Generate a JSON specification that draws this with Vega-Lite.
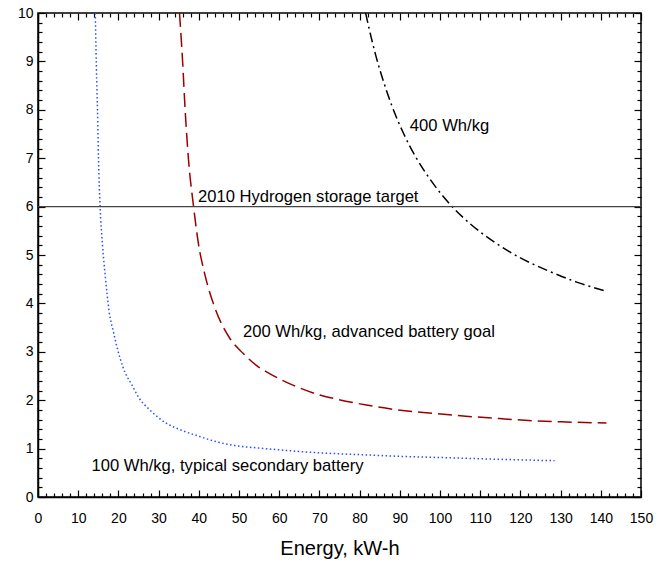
{
  "$schema": "https://vega.github.io/schema/vega-lite/v6.json",
  "autosize": "none",
  "width": 603,
  "height": 484,
  "padding": {"left": 38, "top": 13, "right": 18, "bottom": 67},
  "background": "white",
  "config": {
    "view": {"stroke": "#000000", "strokeWidth": 1.5},
    "font": "Liberation Sans",
    "axis": {"grid": false, "tickColor": "#000000", "tickWidth": 1.2, "domainColor": "#000000", "domainWidth": 1.5, "labelColor": "#000000"}
  },
  "datasets": {
    "curves": [
      {"series": "100 Wh/kg", "energy": 14.25, "value": 10},
      {"series": "100 Wh/kg", "energy": 14.6, "value": 8.6},
      {"series": "100 Wh/kg", "energy": 14.8, "value": 8.0},
      {"series": "100 Wh/kg", "energy": 15.05, "value": 7.0},
      {"series": "100 Wh/kg", "energy": 15.45, "value": 6.0},
      {"series": "100 Wh/kg", "energy": 16.05, "value": 5.2},
      {"series": "100 Wh/kg", "energy": 16.75, "value": 4.55},
      {"series": "100 Wh/kg", "energy": 17.65, "value": 3.86},
      {"series": "100 Wh/kg", "energy": 18.8, "value": 3.4},
      {"series": "100 Wh/kg", "energy": 19.8, "value": 3.05},
      {"series": "100 Wh/kg", "energy": 21.1, "value": 2.69},
      {"series": "100 Wh/kg", "energy": 23.6, "value": 2.28},
      {"series": "100 Wh/kg", "energy": 25.1, "value": 2.05},
      {"series": "100 Wh/kg", "energy": 27.8, "value": 1.8},
      {"series": "100 Wh/kg", "energy": 32.0, "value": 1.52},
      {"series": "100 Wh/kg", "energy": 35.7, "value": 1.38},
      {"series": "100 Wh/kg", "energy": 40.2, "value": 1.25},
      {"series": "100 Wh/kg", "energy": 44.0, "value": 1.15},
      {"series": "100 Wh/kg", "energy": 48.5, "value": 1.07},
      {"series": "100 Wh/kg", "energy": 56.6, "value": 1.0},
      {"series": "100 Wh/kg", "energy": 65.1, "value": 0.94},
      {"series": "100 Wh/kg", "energy": 73.0, "value": 0.9},
      {"series": "100 Wh/kg", "energy": 81.7, "value": 0.87},
      {"series": "100 Wh/kg", "energy": 90.0, "value": 0.84},
      {"series": "100 Wh/kg", "energy": 98.2, "value": 0.82},
      {"series": "100 Wh/kg", "energy": 114.4, "value": 0.78},
      {"series": "100 Wh/kg", "energy": 128.5, "value": 0.75},
      {"series": "200 Wh/kg", "energy": 35.2, "value": 10},
      {"series": "200 Wh/kg", "energy": 35.95, "value": 9.03},
      {"series": "200 Wh/kg", "energy": 36.6, "value": 8.0},
      {"series": "200 Wh/kg", "energy": 37.45, "value": 6.96},
      {"series": "200 Wh/kg", "energy": 38.7, "value": 6.0},
      {"series": "200 Wh/kg", "energy": 39.9, "value": 5.24},
      {"series": "200 Wh/kg", "energy": 41.5, "value": 4.6},
      {"series": "200 Wh/kg", "energy": 43.95, "value": 3.92},
      {"series": "200 Wh/kg", "energy": 47.7, "value": 3.28},
      {"series": "200 Wh/kg", "energy": 51.0, "value": 2.97},
      {"series": "200 Wh/kg", "energy": 54.65, "value": 2.7},
      {"series": "200 Wh/kg", "energy": 57.6, "value": 2.55},
      {"series": "200 Wh/kg", "energy": 64.3, "value": 2.28},
      {"series": "200 Wh/kg", "energy": 69.6, "value": 2.12},
      {"series": "200 Wh/kg", "energy": 73.4, "value": 2.04},
      {"series": "200 Wh/kg", "energy": 81.7, "value": 1.9},
      {"series": "200 Wh/kg", "energy": 89.5, "value": 1.8},
      {"series": "200 Wh/kg", "energy": 98.2, "value": 1.73},
      {"series": "200 Wh/kg", "energy": 106.4, "value": 1.67},
      {"series": "200 Wh/kg", "energy": 114.8, "value": 1.62},
      {"series": "200 Wh/kg", "energy": 124.3, "value": 1.57},
      {"series": "200 Wh/kg", "energy": 131.3, "value": 1.55},
      {"series": "200 Wh/kg", "energy": 141.4, "value": 1.53},
      {"series": "400 Wh/kg", "energy": 81.5, "value": 10},
      {"series": "400 Wh/kg", "energy": 82.5, "value": 9.63},
      {"series": "400 Wh/kg", "energy": 84.0, "value": 9.13},
      {"series": "400 Wh/kg", "energy": 86.0, "value": 8.57},
      {"series": "400 Wh/kg", "energy": 88.0, "value": 8.09},
      {"series": "400 Wh/kg", "energy": 91.0, "value": 7.5},
      {"series": "400 Wh/kg", "energy": 94.0, "value": 7.02},
      {"series": "400 Wh/kg", "energy": 98.0, "value": 6.51},
      {"series": "400 Wh/kg", "energy": 103.0, "value": 6.0},
      {"series": "400 Wh/kg", "energy": 108.0, "value": 5.61},
      {"series": "400 Wh/kg", "energy": 114.0, "value": 5.24},
      {"series": "400 Wh/kg", "energy": 120.0, "value": 4.94},
      {"series": "400 Wh/kg", "energy": 127.0, "value": 4.67},
      {"series": "400 Wh/kg", "energy": 134.0, "value": 4.44},
      {"series": "400 Wh/kg", "energy": 141.4, "value": 4.25}
    ],
    "target": [{"name": "2010 Hydrogen storage target", "value": 6}],
    "labels": [
      {"text": "400 Wh/kg", "energy": 92.5, "value": 7.67},
      {"text": "2010 Hydrogen storage target", "energy": 39.8, "value": 6.19},
      {"text": "200 Wh/kg, advanced battery goal", "energy": 51.0, "value": 3.4},
      {"text": "100 Wh/kg, typical secondary battery", "energy": 13.3, "value": 0.65}
    ]
  },
  "resolve": {"axis": {"x": "independent", "y": "independent"}},
  "layer": [
    {
      "data": {"name": "curves"},
      "mark": {"type": "line", "strokeWidth": 1.5, "strokeCap": "butt", "clip": true, "interpolate": "monotone"},
      "encoding": {
        "x": {
          "field": "energy", "type": "quantitative",
          "scale": {"domain": [0, 150], "nice": false, "zero": false},
          "axis": {
            "orient": "bottom",
            "title": "Energy, kW-h",
            "titleFontSize": 20,
            "titleFontWeight": "normal",
            "titleColor": "#000000",
            "titlePadding": 13,
            "values": [0,10,20,30,40,50,60,70,80,90,100,110,120,130,140,150],
            "labelFontSize": 14,
            "labelPadding": 21,
            "labelFlush": false,
            "labelOverlap": false,
            "tickSize": -7
          }
        },
        "y": {
          "field": "value", "type": "quantitative",
          "scale": {"domain": [0, 10], "nice": false},
          "axis": {
            "orient": "left",
            "title": null,
            "values": [0,1,2,3,4,5,6,7,8,9,10],
            "labelFontSize": 14,
            "labelPadding": 12,
            "labelFlush": false,
            "labelOverlap": false,
            "tickSize": -7
          }
        },
        "color": {
          "field": "series", "type": "nominal",
          "scale": {"domain": ["100 Wh/kg", "200 Wh/kg", "400 Wh/kg"], "range": ["#2a4dff", "#990000", "#000000"]},
          "legend": null
        },
        "strokeDash": {
          "field": "series", "type": "nominal",
          "scale": {"domain": ["100 Wh/kg", "200 Wh/kg", "400 Wh/kg"], "range": [[1.5, 2.5], [14, 6], [10, 4, 2, 4]]},
          "legend": null
        }
      }
    },
    {
      "data": {"name": "curves"},
      "mark": {"type": "point", "opacity": 0},
      "encoding": {
        "x": {
          "field": "energy", "type": "quantitative",
          "axis": {
            "orient": "bottom", "title": null, "labels": false, "domain": false,
            "values": [2,4,6,8,12,14,16,18,22,24,26,28,32,34,36,38,42,44,46,48,52,54,56,58,62,64,66,68,72,74,76,78,82,84,86,88,92,94,96,98,102,104,106,108,112,114,116,118,122,124,126,128,132,134,136,138,142,144,146,148],
            "tickSize": -4
          }
        },
        "y": {
          "field": "value", "type": "quantitative",
          "axis": {
            "orient": "left", "title": null, "labels": false, "domain": false,
            "values": [0.2,0.4,0.6,0.8,1.2,1.4,1.6,1.8,2.2,2.4,2.6,2.8,3.2,3.4,3.6,3.8,4.2,4.4,4.6,4.8,5.2,5.4,5.6,5.8,6.2,6.4,6.6,6.8,7.2,7.4,7.6,7.8,8.2,8.4,8.6,8.8,9.2,9.4,9.6,9.8],
            "tickSize": -4
          }
        }
      }
    },
    {
      "data": {"name": "curves"},
      "mark": {"type": "point", "opacity": 0},
      "encoding": {
        "x": {
          "field": "energy", "type": "quantitative",
          "axis": {
            "orient": "top", "title": null, "labels": false, "domain": false,
            "values": [2,4,6,8,12,14,16,18,22,24,26,28,32,34,36,38,42,44,46,48,52,54,56,58,62,64,66,68,72,74,76,78,82,84,86,88,92,94,96,98,102,104,106,108,112,114,116,118,122,124,126,128,132,134,136,138,142,144,146,148],
            "tickSize": -4
          }
        },
        "y": {
          "field": "value", "type": "quantitative",
          "axis": {
            "orient": "right", "title": null, "labels": false, "domain": false,
            "values": [0.2,0.4,0.6,0.8,1.2,1.4,1.6,1.8,2.2,2.4,2.6,2.8,3.2,3.4,3.6,3.8,4.2,4.4,4.6,4.8,5.2,5.4,5.6,5.8,6.2,6.4,6.6,6.8,7.2,7.4,7.6,7.8,8.2,8.4,8.6,8.8,9.2,9.4,9.6,9.8],
            "tickSize": -4
          }
        }
      }
    },
    {
      "data": {"name": "target"},
      "mark": {"type": "rule", "color": "#444444", "strokeWidth": 1.2},
      "encoding": {
        "y": {"field": "value", "type": "quantitative", "axis": null}
      }
    },
    {
      "data": {"name": "labels"},
      "mark": {"type": "text", "align": "left", "baseline": "middle", "fontSize": 16.6, "color": "#000000"},
      "encoding": {
        "x": {
          "field": "energy", "type": "quantitative",
          "axis": {
            "orient": "top", "title": null, "labels": false, "domain": false,
            "values": [0,10,20,30,40,50,60,70,80,90,100,110,120,130,140,150],
            "tickSize": -7
          }
        },
        "y": {
          "field": "value", "type": "quantitative",
          "axis": {
            "orient": "right", "title": null, "labels": false, "domain": false,
            "values": [0,1,2,3,4,5,6,7,8,9,10],
            "tickSize": -7
          }
        },
        "text": {"field": "text", "type": "nominal"}
      }
    }
  ]
}
